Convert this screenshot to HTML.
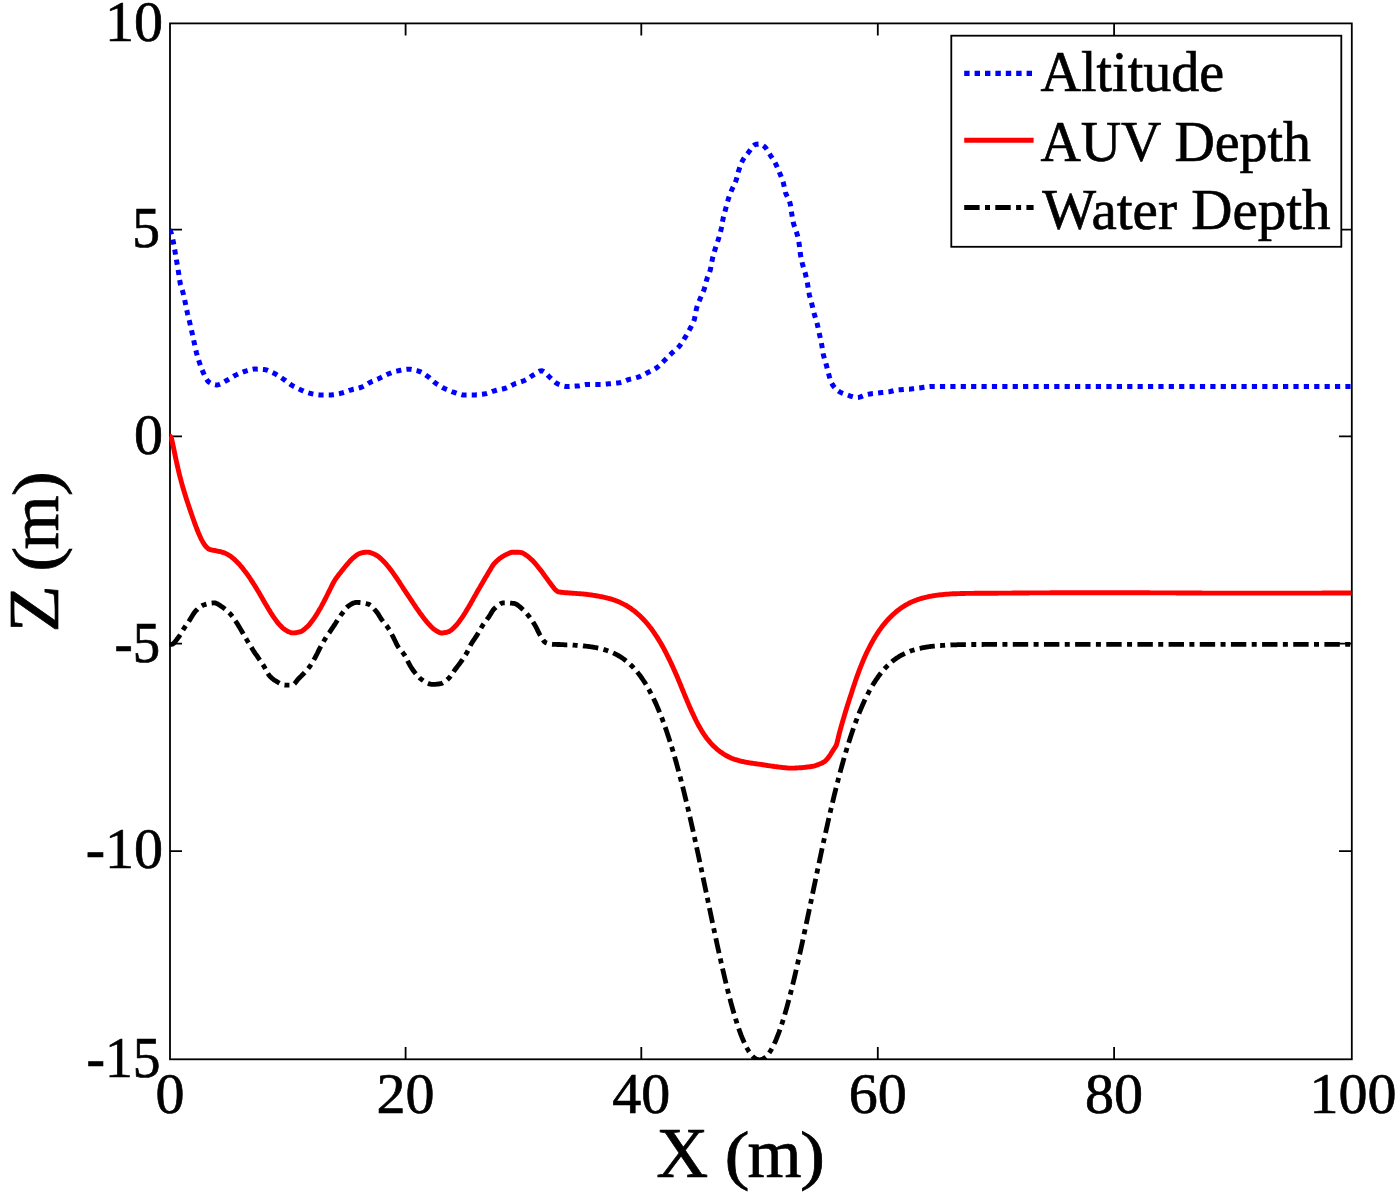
<!DOCTYPE html>
<html><head><meta charset="utf-8"><style>
html,body{margin:0;padding:0;background:#fff;overflow:hidden;}
svg{display:block;}
text{font-family:"Liberation Serif", serif;fill:#000;}
</style></head><body>
<svg width="1400" height="1196" viewBox="0 0 1400 1196">
<defs><clipPath id="cp"><rect x="169" y="22.5" width="1182.5" height="1037.5"/></clipPath></defs>
<rect x="0" y="0" width="1400" height="1196" fill="#fff"/>
<g stroke="#000" stroke-width="1.8" fill="none">
<rect x="170" y="23.4" width="1181.8" height="1035.9"/>
<path d="M405.6 1059.3V1047 M641.3 1059.3V1047 M877.8 1059.3V1047 M1114.1 1059.3V1047
M405.6 23.4V35.5 M641.3 23.4V35.5 M877.8 23.4V35.5 M1114.1 23.4V35.5
M170 229.7H182 M170 436.4H182 M170 643.6H182 M170 851.1H182
M1351.8 229.7H1339 M1351.8 436.4H1339 M1351.8 643.6H1339 M1351.8 851.1H1339"/>
</g>
<g clip-path="url(#cp)" fill="none" stroke-linejoin="round">
<path d="M169.5 644.3 L170.5 644.3 L171.5 644.3 L172.5 644.1 L173.5 643.5 L174.5 642.5 L175.5 641.2 L176.5 639.9 L177.5 638.5 L178.5 637.3 L179.5 635.8 L180.5 634.2 L181.5 632.5 L182.5 630.8 L183.5 629.2 L184.5 627.7 L185.5 626.2 L186.5 624.7 L187.5 623.2 L188.5 621.8 L189.5 620.3 L190.5 618.7 L191.5 617.1 L192.5 615.4 L193.5 613.8 L194.5 612.3 L195.5 611.2 L196.5 610.1 L197.5 609.2 L198.5 608.2 L199.5 607.4 L200.5 606.6 L201.5 606.0 L202.5 605.4 L203.5 605.0 L204.5 604.7 L205.5 604.4 L206.5 604.1 L207.5 603.9 L208.5 603.6 L209.5 603.4 L210.5 603.2 L211.5 603.1 L212.5 603.0 L213.5 602.9 L214.5 602.9 L215.5 603.0 L216.5 603.4 L217.5 603.9 L218.5 604.5 L219.5 605.1 L220.5 605.8 L221.5 606.5 L222.5 607.1 L223.5 607.8 L224.5 608.6 L225.5 609.4 L226.5 610.3 L227.5 611.2 L228.5 612.1 L229.5 613.1 L230.5 614.2 L231.5 615.3 L232.5 616.6 L233.5 618.0 L234.5 619.5 L235.5 621.0 L236.5 622.5 L237.5 624.1 L238.5 625.7 L239.5 627.4 L240.5 629.1 L241.5 630.8 L242.5 632.5 L243.5 634.3 L244.5 636.0 L245.5 637.7 L246.5 639.4 L247.5 641.1 L248.5 642.8 L249.5 644.4 L250.5 646.0 L251.5 647.6 L252.5 649.2 L253.5 650.8 L254.5 652.3 L255.5 653.8 L256.5 655.2 L257.5 656.7 L258.5 658.2 L259.5 659.6 L260.5 661.1 L261.5 662.6 L262.5 664.1 L263.5 665.6 L264.5 667.2 L265.5 669.1 L266.5 671.0 L267.5 672.9 L268.5 674.5 L269.5 675.8 L270.5 676.9 L271.5 677.8 L272.5 678.7 L273.5 679.5 L274.5 680.2 L275.5 680.8 L276.5 681.4 L277.5 682.0 L278.5 682.6 L279.5 683.1 L280.5 683.7 L281.5 684.1 L282.5 684.5 L283.5 684.9 L284.5 685.0 L285.5 685.1 L286.5 685.1 L287.5 685.1 L288.5 685.1 L289.5 685.1 L290.5 685.1 L291.5 685.1 L292.5 685.1 L293.5 684.6 L294.5 683.7 L295.5 682.5 L296.5 681.2 L297.5 679.9 L298.5 678.7 L299.5 677.7 L300.5 676.7 L301.5 675.8 L302.5 674.8 L303.5 673.8 L304.5 672.8 L305.5 671.7 L306.5 670.6 L307.5 669.4 L308.5 668.1 L309.5 666.8 L310.5 665.4 L311.5 663.9 L312.5 662.3 L313.5 660.5 L314.5 658.7 L315.5 656.8 L316.5 654.9 L317.5 653.0 L318.5 650.9 L319.5 648.9 L320.5 647.0 L321.5 645.2 L322.5 643.4 L323.5 641.6 L324.5 639.9 L325.5 638.3 L326.5 636.7 L327.5 635.2 L328.5 633.8 L329.5 632.4 L330.5 630.9 L331.5 629.4 L332.5 627.9 L333.5 626.3 L334.5 624.8 L335.5 623.3 L336.5 621.7 L337.5 620.2 L338.5 618.7 L339.5 617.2 L340.5 615.7 L341.5 614.3 L342.5 613.0 L343.5 611.6 L344.5 610.2 L345.5 608.9 L346.5 607.7 L347.5 606.7 L348.5 606.0 L349.5 605.3 L350.5 604.6 L351.5 604.0 L352.5 603.5 L353.5 603.0 L354.5 602.7 L355.5 602.5 L356.5 602.4 L357.5 602.4 L358.5 602.5 L359.5 602.5 L360.5 602.6 L361.5 602.8 L362.5 602.9 L363.5 603.1 L364.5 603.3 L365.5 603.5 L366.5 603.7 L367.5 604.0 L368.5 604.2 L369.5 604.6 L370.5 605.3 L371.5 606.1 L372.5 607.1 L373.5 608.2 L374.5 609.4 L375.5 610.5 L376.5 611.7 L377.5 613.0 L378.5 614.6 L379.5 616.2 L380.5 617.8 L381.5 619.3 L382.5 620.7 L383.5 622.0 L384.5 623.2 L385.5 624.4 L386.5 625.6 L387.5 627.0 L388.5 628.5 L389.5 630.1 L390.5 631.9 L391.5 633.8 L392.5 635.8 L393.5 637.7 L394.5 639.7 L395.5 641.8 L396.5 643.9 L397.5 645.8 L398.5 647.4 L399.5 648.7 L400.5 649.9 L401.5 651.1 L402.5 652.3 L403.5 653.6 L404.5 655.0 L405.5 656.7 L406.5 658.6 L407.5 660.6 L408.5 662.6 L409.5 664.5 L410.5 666.2 L411.5 667.8 L412.5 669.3 L413.5 670.8 L414.5 672.1 L415.5 673.4 L416.5 674.6 L417.5 675.7 L418.5 676.8 L419.5 677.8 L420.5 678.7 L421.5 679.5 L422.5 680.1 L423.5 680.8 L424.5 681.4 L425.5 682.0 L426.5 682.6 L427.5 683.1 L428.5 683.5 L429.5 683.9 L430.5 684.2 L431.5 684.3 L432.5 684.4 L433.5 684.4 L434.5 684.3 L435.5 684.3 L436.5 684.2 L437.5 684.1 L438.5 684.0 L439.5 683.9 L440.5 683.7 L441.5 683.5 L442.5 683.1 L443.5 682.5 L444.5 681.9 L445.5 681.1 L446.5 680.3 L447.5 679.4 L448.5 678.5 L449.5 677.5 L450.5 676.3 L451.5 674.9 L452.5 673.4 L453.5 671.9 L454.5 670.4 L455.5 669.0 L456.5 667.7 L457.5 666.4 L458.5 665.1 L459.5 663.8 L460.5 662.4 L461.5 661.0 L462.5 659.6 L463.5 658.1 L464.5 656.5 L465.5 654.9 L466.5 653.3 L467.5 651.5 L468.5 649.5 L469.5 647.4 L470.5 645.3 L471.5 643.4 L472.5 641.8 L473.5 640.3 L474.5 638.9 L475.5 637.4 L476.5 635.9 L477.5 634.3 L478.5 632.5 L479.5 630.7 L480.5 629.0 L481.5 627.3 L482.5 625.7 L483.5 624.2 L484.5 622.8 L485.5 621.5 L486.5 620.1 L487.5 618.7 L488.5 617.3 L489.5 615.8 L490.5 614.2 L491.5 612.5 L492.5 610.9 L493.5 609.5 L494.5 608.5 L495.5 607.6 L496.5 606.7 L497.5 605.8 L498.5 605.0 L499.5 604.3 L500.5 603.7 L501.5 603.3 L502.5 603.0 L503.5 602.9 L504.5 602.9 L505.5 602.9 L506.5 602.9 L507.5 603.0 L508.5 603.0 L509.5 603.1 L510.5 603.2 L511.5 603.2 L512.5 603.3 L513.5 603.4 L514.5 603.5 L515.5 603.8 L516.5 604.3 L517.5 605.0 L518.5 605.7 L519.5 606.5 L520.5 607.4 L521.5 608.3 L522.5 609.2 L523.5 610.1 L524.5 611.1 L525.5 612.1 L526.5 613.3 L527.5 614.5 L528.5 615.7 L529.5 617.0 L530.5 618.3 L531.5 619.7 L532.5 621.2 L533.5 622.8 L534.5 624.4 L535.5 626.1 L536.5 628.0 L537.5 630.1 L538.5 632.2 L539.5 634.1 L540.5 635.8 L541.5 637.6 L542.5 639.2 L543.5 640.7 L544.5 641.8 L545.5 642.5 L546.5 642.9 L547.5 643.3 L548.5 643.6 L549.5 643.9 L550.5 644.1 L551.5 644.2 L552.5 644.3 L553.5 644.3 L554.5 644.4 L555.5 644.4 L556.5 644.4 L557.5 644.5 L558.5 644.5 L559.5 644.5 L560.5 644.6 L561.5 644.6 L562.5 644.7 L563.5 644.7 L564.5 644.8 L565.5 644.8 L566.5 644.9 L567.5 644.9 L568.5 645.0 L569.5 645.0 L570.5 645.0 L571.5 645.1 L572.5 645.1 L573.5 645.2 L574.5 645.2 L575.5 645.3 L576.5 645.4 L577.5 645.4 L578.5 645.5 L579.5 645.6 L580.5 645.6 L581.5 645.7 L582.5 645.8 L583.1 645.9" stroke="#000" stroke-width="4.8" stroke-dasharray="15.304 5.366 4.969 5.327"/>
<path d="M583.1 645.9 L584.1 646.0 L585.1 646.1 L586.1 646.2 L587.1 646.3 L588.1 646.4 L589.1 646.5 L590.1 646.7 L591.1 646.8 L592.1 647.0 L593.1 647.1 L594.1 647.3 L595.1 647.5 L596.1 647.7 L597.1 647.9 L598.1 648.1 L599.1 648.3 L600.1 648.5 L601.1 648.8 L602.1 649.0 L603.1 649.3 L604.1 649.6 L605.1 649.9 L606.1 650.2 L607.1 650.6 L608.1 650.9 L609.1 651.3 L610.1 651.6 L611.1 652.1 L612.1 652.5 L613.1 652.9 L614.1 653.4 L615.1 653.9 L616.1 654.4 L617.1 654.9 L618.1 655.5 L619.1 656.0 L620.1 656.6 L621.1 657.3 L622.1 657.9 L623.1 658.6 L624.1 659.3 L625.1 660.1 L626.1 660.9 L627.1 661.7 L628.1 662.5 L629.1 663.4 L630.1 664.3 L631.1 665.3 L632.1 666.3 L633.1 667.3 L634.1 668.4 L635.1 669.5 L636.1 670.6 L637.1 671.8 L638.1 673.1 L639.1 674.4 L640.1 675.7 L641.1 677.1 L642.1 678.5 L643.1 680.0 L644.1 681.5 L645.1 683.1 L646.1 684.7 L647.1 686.4 L648.1 688.1 L649.1 689.9 L650.1 691.8 L651.1 693.7 L652.1 695.7 L653.1 697.7 L654.1 699.8 L655.1 701.9 L656.1 704.1 L657.1 706.4 L658.1 708.7 L659.1 711.1 L660.1 713.6 L661.1 716.1 L662.1 718.7 L663.1 721.4 L664.1 724.1 L665.1 726.9 L666.1 729.8 L667.1 732.7 L668.1 735.7 L669.1 738.7 L670.1 741.9 L671.1 745.1 L672.1 748.3 L673.1 751.6 L674.1 755.0 L675.1 758.5 L676.1 762.0 L677.1 765.6 L678.1 769.3 L679.1 773.0 L680.1 776.8 L681.1 780.6 L682.1 784.5 L683.1 788.5 L684.1 792.5 L685.1 796.6 L686.1 800.7 L687.1 804.9 L688.1 809.1 L689.1 813.4 L690.1 817.8 L691.1 822.2 L692.1 826.6 L693.1 831.1 L694.1 835.6 L695.1 840.2 L696.1 844.7 L697.1 849.4 L698.1 854.0 L699.1 858.7 L700.1 863.4 L701.1 868.1 L702.1 872.9 L703.1 877.7 L704.1 882.4 L705.1 887.2 L706.1 892.0 L707.1 896.8 L708.1 901.6 L709.1 906.4 L710.1 911.2 L711.1 916.0 L712.1 920.7 L713.1 925.5 L714.1 930.2 L715.1 934.9 L716.1 939.6 L717.1 944.2 L718.1 948.8 L719.1 953.3 L720.1 957.8 L721.1 962.3 L722.1 966.7 L723.1 971.0 L724.1 975.3 L725.1 979.5 L726.1 983.7 L727.1 987.8 L728.1 991.8 L729.1 995.7 L730.1 999.5 L731.1 1003.3 L732.1 1006.9 L733.1 1010.5 L734.1 1013.9 L735.1 1017.3 L736.1 1020.5 L737.1 1023.7 L738.1 1026.7 L739.1 1029.6 L740.1 1032.4 L741.1 1035.1 L742.1 1037.6 L743.1 1040.0 L744.1 1042.3 L745.1 1044.5 L746.1 1046.5 L747.1 1048.4 L748.1 1050.1 L749.1 1051.8 L750.1 1053.2 L751.1 1054.6 L752.1 1055.7 L753.1 1056.8 L754.1 1057.7 L755.1 1058.4 L756.1 1059.0 L757.1 1059.4 L758.1 1059.7 L759.1 1059.8 L760.1 1059.8 L761.1 1059.7 L762.1 1059.4 L763.1 1058.9 L764.1 1058.3 L765.1 1057.5 L766.1 1056.6 L767.1 1055.6 L768.1 1054.4 L769.1 1053.0 L770.1 1051.5 L771.1 1049.9 L772.1 1048.1 L773.1 1046.2 L774.1 1044.1 L775.1 1042.0 L776.1 1039.7 L777.1 1037.2 L778.1 1034.6 L779.1 1032.0 L780.1 1029.1 L781.1 1026.2 L782.1 1023.2 L783.1 1020.0 L784.1 1016.7 L785.1 1013.4 L786.1 1009.9 L787.1 1006.3 L788.1 1002.7 L789.1 998.9 L790.1 995.1 L791.1 991.1 L792.1 987.1 L793.1 983.0 L794.1 978.9 L795.1 974.6 L796.1 970.3 L797.1 966.0 L798.1 961.6 L799.1 957.1 L800.1 952.6 L801.1 948.0 L802.1 943.4 L803.1 938.8 L804.1 934.1 L805.1 929.4 L806.1 924.7 L807.1 920.0 L808.1 915.2 L809.1 910.4 L810.1 905.6 L811.1 900.9 L812.1 896.1 L813.1 891.3 L814.1 886.5 L815.1 881.7 L816.1 876.9 L817.1 872.1 L818.1 867.4 L819.1 862.7 L820.1 858.0 L821.1 853.3 L822.1 848.6 L823.1 844.0 L824.1 839.4 L825.1 834.9 L826.1 830.4 L827.1 825.9 L828.1 821.5 L829.1 817.1 L830.1 812.7 L831.1 808.5 L832.1 804.2 L833.1 800.1 L834.1 795.9 L835.1 791.9 L836.1 787.8 L837.1 783.9 L838.1 780.0 L839.1 776.2 L840.1 772.4 L841.1 768.7 L842.1 765.0 L843.1 761.5 L844.1 757.9 L845.1 754.5 L846.1 751.1 L847.1 747.8 L848.1 744.5 L849.1 741.4 L850.1 738.2 L851.1 735.2 L852.1 732.2 L853.1 729.3 L854.1 726.4 L855.1 723.7 L856.1 720.9 L857.1 718.3 L858.1 715.7 L859.1 713.2 L860.1 710.7 L861.1 708.4 L862.1 706.0 L863.1 703.8 L864.1 701.6 L865.1 699.4 L866.1 697.4 L867.1 695.3 L868.1 693.4 L869.1 691.5 L870.1 689.6 L871.1 687.9 L872.1 686.1 L873.1 684.4 L874.1 682.8 L875.1 681.3 L876.1 679.7 L877.1 678.3 L878.1 676.8 L879.1 675.5 L880.1 674.1 L881.1 672.9 L882.1 671.6 L883.1 670.4 L884.1 669.3 L885.1 668.2 L886.1 667.1 L887.1 666.1 L888.1 665.1 L889.1 664.2 L890.1 663.3 L891.1 662.4 L892.1 661.5 L893.1 660.7 L894.1 660.0 L895.1 659.2 L896.1 658.5 L897.1 657.8 L898.1 657.2 L899.1 656.5 L900.1 655.9 L901.1 655.4 L902.1 654.8 L903.1 654.3 L904.1 653.8 L905.1 653.3 L906.1 652.8 L907.1 652.4 L908.1 652.0 L909.1 651.6 L910.1 651.2 L911.1 650.8 L912.1 650.5 L913.1 650.2 L914.1 649.9 L915.1 649.6 L916.1 649.3 L917.1 649.0 L918.1 648.7 L919.1 648.5 L920.1 648.3 L921.1 648.1 L922.1 647.8 L923.1 647.6 L924.1 647.5 L925.1 647.3 L926.1 647.1 L927.1 647.0 L928.1 646.8 L929.1 646.7 L930.1 646.5 L931.1 646.4 L932.1 646.3 L933.1 646.2 L934.1 646.1 L935.1 646.0 L936.1 645.9 L937.1 645.8 L938.1 645.7 L939.1 645.6 L940.1 645.5 L941.1 645.5 L942.1 645.4 L943.1 645.3 L944.1 645.3 L945.1 645.2 L946.1 645.2 L947.1 645.1 L948.1 645.1 L949.1 645.0 L950.1 645.0 L950.5 645.0" stroke="#000" stroke-width="4.8" stroke-dasharray="15.339 5.379 4.980 5.339"/>
<path d="M950.5 645.0 L951.5 644.9 L952.5 644.9 L953.5 644.9 L954.5 644.8 L955.5 644.8 L956.5 644.8 L957.5 644.7 L958.5 644.7 L959.5 644.7 L960.5 644.7 L961.5 644.7 L962.5 644.6 L963.5 644.6 L964.5 644.6 L965.5 644.6 L966.5 644.6 L967.5 644.6 L968.5 644.6 L969.5 644.5 L970.5 644.5 L971.5 644.5 L972.5 644.5 L973.5 644.5 L974.5 644.5 L975.5 644.5 L976.5 644.5 L977.5 644.5 L978.5 644.5 L979.5 644.5 L980.5 644.5 L981.5 644.5 L982.5 644.5 L983.5 644.4 L984.5 644.4 L985.5 644.4 L986.5 644.4 L987.5 644.4 L988.5 644.4 L989.5 644.4 L990.5 644.4 L991.5 644.4 L992.5 644.4 L993.5 644.4 L994.5 644.4 L995.5 644.4 L996.5 644.4 L997.5 644.4 L998.5 644.4 L999.5 644.4 L1000.5 644.4 L1001.5 644.4 L1002.5 644.4 L1003.5 644.4 L1004.5 644.4 L1005.5 644.4 L1006.5 644.4 L1007.5 644.4 L1008.5 644.4 L1009.5 644.4 L1010.5 644.4 L1011.5 644.4 L1012.5 644.4 L1013.5 644.4 L1014.5 644.4 L1015.5 644.4 L1016.5 644.4 L1017.5 644.4 L1018.5 644.4 L1019.5 644.4 L1020.5 644.4 L1021.5 644.4 L1022.5 644.4 L1023.5 644.4 L1024.5 644.4 L1025.5 644.4 L1026.5 644.4 L1027.5 644.4 L1028.5 644.4 L1029.5 644.4 L1030.5 644.4 L1031.5 644.4 L1032.5 644.4 L1033.5 644.4 L1034.5 644.4 L1035.5 644.4 L1036.5 644.4 L1037.5 644.4 L1038.5 644.4 L1039.5 644.4 L1040.5 644.4 L1041.5 644.4 L1042.5 644.4 L1043.5 644.4 L1044.5 644.4 L1045.5 644.4 L1046.5 644.4 L1047.5 644.4 L1048.5 644.4 L1049.5 644.4 L1050.5 644.4 L1051.5 644.4 L1052.5 644.4 L1053.5 644.4 L1054.5 644.4 L1055.5 644.4 L1056.5 644.4 L1057.5 644.4 L1058.5 644.4 L1059.5 644.4 L1060.5 644.4 L1061.5 644.4 L1062.5 644.4 L1063.5 644.4 L1064.5 644.4 L1065.5 644.4 L1066.5 644.4 L1067.5 644.4 L1068.5 644.4 L1069.5 644.4 L1070.5 644.4 L1071.5 644.4 L1072.5 644.4 L1073.5 644.4 L1074.5 644.4 L1075.5 644.4 L1076.5 644.4 L1077.5 644.4 L1078.5 644.4 L1079.5 644.4 L1080.5 644.4 L1081.5 644.4 L1082.5 644.4 L1083.5 644.4 L1084.5 644.4 L1085.5 644.4 L1086.5 644.4 L1087.5 644.4 L1088.5 644.4 L1089.5 644.4 L1090.5 644.4 L1091.5 644.4 L1092.5 644.4 L1093.5 644.4 L1094.5 644.4 L1095.5 644.4 L1096.5 644.4 L1097.5 644.4 L1098.5 644.4 L1099.5 644.4 L1100.5 644.4 L1101.5 644.4 L1102.5 644.4 L1103.5 644.4 L1104.5 644.4 L1105.5 644.4 L1106.5 644.4 L1107.5 644.4 L1108.5 644.4 L1109.5 644.4 L1110.5 644.4 L1111.5 644.4 L1112.5 644.4 L1113.5 644.4 L1114.5 644.4 L1115.5 644.4 L1116.5 644.4 L1117.5 644.4 L1118.5 644.4 L1119.5 644.4 L1120.5 644.4 L1121.5 644.4 L1122.5 644.4 L1123.5 644.4 L1124.5 644.4 L1125.5 644.4 L1126.5 644.4 L1127.5 644.4 L1128.5 644.4 L1129.5 644.4 L1130.5 644.4 L1131.5 644.4 L1132.5 644.4 L1133.5 644.4 L1134.5 644.4 L1135.5 644.4 L1136.5 644.4 L1137.5 644.4 L1138.5 644.4 L1139.5 644.4 L1140.5 644.4 L1141.5 644.4 L1142.5 644.4 L1143.5 644.4 L1144.5 644.4 L1145.5 644.4 L1146.5 644.4 L1147.5 644.4 L1148.5 644.4 L1149.5 644.4 L1150.5 644.4 L1151.5 644.4 L1152.5 644.4 L1153.5 644.4 L1154.5 644.4 L1155.5 644.4 L1156.5 644.4 L1157.5 644.4 L1158.5 644.4 L1159.5 644.4 L1160.5 644.4 L1161.5 644.4 L1162.5 644.4 L1163.5 644.4 L1164.5 644.4 L1165.5 644.4 L1166.5 644.4 L1167.5 644.4 L1168.5 644.4 L1169.5 644.4 L1170.5 644.4 L1171.5 644.4 L1172.5 644.4 L1173.5 644.4 L1174.5 644.4 L1175.5 644.4 L1176.5 644.4 L1177.5 644.4 L1178.5 644.4 L1179.5 644.4 L1180.5 644.4 L1181.5 644.4 L1182.5 644.4 L1183.5 644.4 L1184.5 644.4 L1185.5 644.4 L1186.5 644.4 L1187.5 644.4 L1188.5 644.4 L1189.5 644.4 L1190.5 644.4 L1191.5 644.4 L1192.5 644.4 L1193.5 644.4 L1194.5 644.4 L1195.5 644.4 L1196.5 644.4 L1197.5 644.4 L1198.5 644.4 L1199.5 644.4 L1200.5 644.4 L1201.5 644.4 L1202.5 644.4 L1203.5 644.4 L1204.5 644.4 L1205.5 644.4 L1206.5 644.4 L1207.5 644.4 L1208.5 644.4 L1209.5 644.4 L1210.5 644.4 L1211.5 644.4 L1212.5 644.4 L1213.5 644.4 L1214.5 644.4 L1215.5 644.4 L1216.5 644.4 L1217.5 644.4 L1218.5 644.4 L1219.5 644.4 L1220.5 644.4 L1221.5 644.4 L1222.5 644.4 L1223.5 644.4 L1224.5 644.4 L1225.5 644.4 L1226.5 644.4 L1227.5 644.4 L1228.5 644.4 L1229.5 644.4 L1230.5 644.4 L1231.5 644.4 L1232.5 644.4 L1233.5 644.4 L1234.5 644.4 L1235.5 644.4 L1236.5 644.4 L1237.5 644.4 L1238.5 644.4 L1239.5 644.4 L1240.5 644.4 L1241.5 644.4 L1242.5 644.4 L1243.5 644.4 L1244.5 644.4 L1245.5 644.4 L1246.5 644.4 L1247.5 644.4 L1248.5 644.4 L1249.5 644.4 L1250.5 644.4 L1251.5 644.4 L1252.5 644.4 L1253.5 644.4 L1254.5 644.4 L1255.5 644.4 L1256.5 644.4 L1257.5 644.4 L1258.5 644.4 L1259.5 644.4 L1260.5 644.4 L1261.5 644.4 L1262.5 644.4 L1263.5 644.4 L1264.5 644.4 L1265.5 644.4 L1266.5 644.4 L1267.5 644.4 L1268.5 644.4 L1269.5 644.4 L1270.5 644.4 L1271.5 644.4 L1272.5 644.4 L1273.5 644.4 L1274.5 644.4 L1275.5 644.4 L1276.5 644.4 L1277.5 644.4 L1278.5 644.4 L1279.5 644.4 L1280.5 644.4 L1281.5 644.4 L1282.5 644.4 L1283.5 644.4 L1284.5 644.4 L1285.5 644.4 L1286.5 644.4 L1287.5 644.4 L1288.5 644.4 L1289.5 644.4 L1290.5 644.4 L1291.5 644.4 L1292.5 644.4 L1293.5 644.4 L1294.5 644.4 L1295.5 644.4 L1296.5 644.4 L1297.5 644.4 L1298.5 644.4 L1299.5 644.4 L1300.5 644.4 L1301.5 644.4 L1302.5 644.4 L1303.5 644.4 L1304.5 644.4 L1305.5 644.4 L1306.5 644.4 L1307.5 644.4 L1308.5 644.4 L1309.5 644.4 L1310.5 644.4 L1311.5 644.4 L1312.5 644.4 L1313.5 644.4 L1314.5 644.4 L1315.5 644.4 L1316.5 644.4 L1317.5 644.4 L1318.5 644.4 L1319.5 644.4 L1320.5 644.4 L1321.5 644.4 L1322.5 644.4 L1323.5 644.4 L1324.5 644.4 L1325.5 644.4 L1326.5 644.4 L1327.5 644.4 L1328.5 644.4 L1329.5 644.4 L1330.5 644.4 L1331.5 644.4 L1332.5 644.4 L1333.5 644.4 L1334.5 644.4 L1335.5 644.4 L1336.5 644.4 L1337.5 644.4 L1338.5 644.4 L1339.5 644.4 L1340.5 644.4 L1341.5 644.4 L1342.5 644.4 L1343.5 644.4 L1344.5 644.4 L1345.5 644.4 L1346.5 644.4 L1347.5 644.4 L1348.5 644.4 L1349.5 644.4 L1350.5 644.4 L1351.5 644.4 L1352.5 644.4 L1353.0 644.4" stroke="#000" stroke-width="4.8" stroke-dasharray="15.400 5.400 5.000 5.360"/>
<path d="M169.5 436.3 L170.5 436.5 L171.5 438.5 L172.5 442.9 L173.5 447.6 L174.5 452.4 L175.5 457.3 L176.5 461.9 L177.5 466.4 L178.5 470.7 L179.5 474.8 L180.5 478.7 L181.5 482.5 L182.5 486.1 L183.5 489.5 L184.5 492.8 L185.5 496.0 L186.5 499.2 L187.5 502.2 L188.5 505.2 L189.5 508.2 L190.5 511.1 L191.5 514.1 L192.5 517.0 L193.5 519.8 L194.5 522.6 L195.5 525.3 L196.5 528.0 L197.5 530.5 L198.5 533.0 L199.5 535.3 L200.5 537.5 L201.5 539.6 L202.5 541.4 L203.5 543.1 L204.5 544.7 L205.5 546.0 L206.5 547.1 L207.5 548.0 L208.5 548.8 L209.5 549.4 L210.5 549.7 L211.5 550.0 L212.5 550.2 L213.5 550.4 L214.5 550.5 L215.5 550.7 L216.5 550.9 L217.5 551.1 L218.5 551.3 L219.5 551.5 L220.5 551.7 L221.5 552.0 L222.5 552.3 L223.5 552.6 L224.5 552.9 L225.5 553.4 L226.5 553.9 L227.5 554.4 L228.5 555.0 L229.5 555.6 L230.5 556.3 L231.5 557.0 L232.5 557.8 L233.5 558.7 L234.5 559.5 L235.5 560.5 L236.5 561.4 L237.5 562.4 L238.5 563.4 L239.5 564.5 L240.5 565.7 L241.5 566.9 L242.5 568.1 L243.5 569.4 L244.5 570.7 L245.5 572.0 L246.5 573.3 L247.5 574.7 L248.5 576.1 L249.5 577.5 L250.5 579.0 L251.5 580.6 L252.5 582.1 L253.5 583.7 L254.5 585.3 L255.5 586.9 L256.5 588.5 L257.5 590.2 L258.5 591.8 L259.5 593.5 L260.5 595.3 L261.5 597.0 L262.5 598.7 L263.5 600.5 L264.5 602.2 L265.5 603.9 L266.5 605.6 L267.5 607.3 L268.5 609.0 L269.5 610.6 L270.5 612.3 L271.5 613.8 L272.5 615.4 L273.5 616.9 L274.5 618.3 L275.5 619.7 L276.5 621.1 L277.5 622.4 L278.5 623.6 L279.5 624.7 L280.5 625.8 L281.5 626.8 L282.5 627.8 L283.5 628.6 L284.5 629.4 L285.5 630.0 L286.5 630.6 L287.5 631.2 L288.5 631.7 L289.5 632.1 L290.5 632.5 L291.5 632.8 L292.5 632.9 L293.5 632.9 L294.5 632.9 L295.5 632.7 L296.5 632.6 L297.5 632.4 L298.5 632.2 L299.5 632.0 L300.5 631.7 L301.5 631.3 L302.5 630.7 L303.5 630.0 L304.5 629.2 L305.5 628.3 L306.5 627.4 L307.5 626.5 L308.5 625.5 L309.5 624.4 L310.5 623.1 L311.5 621.8 L312.5 620.5 L313.5 619.1 L314.5 617.7 L315.5 616.2 L316.5 614.6 L317.5 613.0 L318.5 611.3 L319.5 609.6 L320.5 607.9 L321.5 606.1 L322.5 604.2 L323.5 602.3 L324.5 600.4 L325.5 598.5 L326.5 596.5 L327.5 594.5 L328.5 592.4 L329.5 590.5 L330.5 588.5 L331.5 586.4 L332.5 584.4 L333.5 582.5 L334.5 580.7 L335.5 579.1 L336.5 577.7 L337.5 576.4 L338.5 575.1 L339.5 573.8 L340.5 572.6 L341.5 571.3 L342.5 570.0 L343.5 568.7 L344.5 567.5 L345.5 566.3 L346.5 565.1 L347.5 564.0 L348.5 562.8 L349.5 561.6 L350.5 560.5 L351.5 559.5 L352.5 558.5 L353.5 557.6 L354.5 556.8 L355.5 556.0 L356.5 555.3 L357.5 554.6 L358.5 554.0 L359.5 553.6 L360.5 553.2 L361.5 553.0 L362.5 552.7 L363.5 552.5 L364.5 552.3 L365.5 552.2 L366.5 552.1 L367.5 552.1 L368.5 552.2 L369.5 552.4 L370.5 552.7 L371.5 553.0 L372.5 553.4 L373.5 553.8 L374.5 554.3 L375.5 554.7 L376.5 555.3 L377.5 555.9 L378.5 556.7 L379.5 557.5 L380.5 558.4 L381.5 559.3 L382.5 560.2 L383.5 561.2 L384.5 562.2 L385.5 563.4 L386.5 564.5 L387.5 565.7 L388.5 566.9 L389.5 568.2 L390.5 569.5 L391.5 570.8 L392.5 572.2 L393.5 573.6 L394.5 575.0 L395.5 576.5 L396.5 577.9 L397.5 579.4 L398.5 580.9 L399.5 582.4 L400.5 584.0 L401.5 585.5 L402.5 587.0 L403.5 588.6 L404.5 590.1 L405.5 591.6 L406.5 593.1 L407.5 594.7 L408.5 596.2 L409.5 597.7 L410.5 599.2 L411.5 600.7 L412.5 602.2 L413.5 603.7 L414.5 605.1 L415.5 606.6 L416.5 608.1 L417.5 609.5 L418.5 610.9 L419.5 612.4 L420.5 613.8 L421.5 615.1 L422.5 616.4 L423.5 617.8 L424.5 619.1 L425.5 620.3 L426.5 621.6 L427.5 622.7 L428.5 623.8 L429.5 624.9 L430.5 626.0 L431.5 627.0 L432.5 628.0 L433.5 628.9 L434.5 629.6 L435.5 630.3 L436.5 630.9 L437.5 631.5 L438.5 632.0 L439.5 632.5 L440.5 632.8 L441.5 633.0 L442.5 633.0 L443.5 632.9 L444.5 632.7 L445.5 632.5 L446.5 632.3 L447.5 632.0 L448.5 631.7 L449.5 631.2 L450.5 630.6 L451.5 629.9 L452.5 629.0 L453.5 628.0 L454.5 627.1 L455.5 626.1 L456.5 625.0 L457.5 623.7 L458.5 622.5 L459.5 621.1 L460.5 619.7 L461.5 618.3 L462.5 616.9 L463.5 615.4 L464.5 613.8 L465.5 612.2 L466.5 610.5 L467.5 608.8 L468.5 607.2 L469.5 605.4 L470.5 603.7 L471.5 601.9 L472.5 600.2 L473.5 598.4 L474.5 596.6 L475.5 594.9 L476.5 593.1 L477.5 591.3 L478.5 589.6 L479.5 587.9 L480.5 586.1 L481.5 584.4 L482.5 582.7 L483.5 581.0 L484.5 579.3 L485.5 577.6 L486.5 575.9 L487.5 574.2 L488.5 572.5 L489.5 570.9 L490.5 569.2 L491.5 567.5 L492.5 565.9 L493.5 564.4 L494.5 563.2 L495.5 562.2 L496.5 561.2 L497.5 560.3 L498.5 559.5 L499.5 558.7 L500.5 557.9 L501.5 557.2 L502.5 556.6 L503.5 556.0 L504.5 555.4 L505.5 554.9 L506.5 554.4 L507.5 553.9 L508.5 553.5 L509.5 553.0 L510.5 552.6 L511.5 552.3 L512.5 552.2 L513.5 552.2 L514.5 552.2 L515.5 552.2 L516.5 552.2 L517.5 552.3 L518.5 552.3 L519.5 552.4 L520.5 552.5 L521.5 552.6 L522.5 552.9 L523.5 553.5 L524.5 554.1 L525.5 554.7 L526.5 555.4 L527.5 556.1 L528.5 556.9 L529.5 557.8 L530.5 558.7 L531.5 559.6 L532.5 560.6 L533.5 561.6 L534.5 562.7 L535.5 563.8 L536.5 565.0 L537.5 566.2 L538.5 567.5 L539.5 568.7 L540.5 570.0 L541.5 571.3 L542.5 572.6 L543.5 574.0 L544.5 575.4 L545.5 576.7 L546.5 578.1 L547.5 579.5 L548.5 580.9 L549.5 582.3 L550.5 583.6 L551.5 584.9 L552.5 586.2 L553.5 587.5 L554.5 588.8 L555.5 589.9 L556.5 590.8 L557.5 591.5 L558.5 591.8 L559.5 592.0 L560.5 592.2 L561.5 592.3 L562.5 592.4 L563.5 592.5 L564.5 592.6 L565.5 592.7 L566.5 592.8 L567.5 592.8 L568.5 592.9 L569.5 593.0 L570.5 593.0 L571.5 593.1 L572.5 593.2 L573.5 593.3 L574.5 593.4 L575.5 593.4 L576.5 593.5 L577.5 593.6 L578.5 593.6 L579.5 593.7 L580.5 593.8 L581.5 593.9 L582.5 593.9 L583.5 594.0 L584.5 594.1 L585.5 594.2 L586.5 594.3 L587.5 594.5 L588.5 594.6 L589.5 594.7 L590.5 594.9 L591.5 595.0 L592.5 595.2 L593.5 595.4 L594.5 595.5 L595.5 595.7 L596.5 595.8 L597.5 596.0 L598.5 596.2 L599.5 596.4 L600.5 596.6 L601.5 596.7 L602.5 596.9 L603.5 597.2 L604.5 597.4 L605.5 597.6 L606.5 597.8 L607.5 598.1 L608.5 598.3 L609.5 598.6 L610.5 598.9 L611.5 599.2 L612.5 599.5 L613.5 599.8 L614.5 600.2 L615.5 600.5 L616.5 600.9 L617.5 601.3 L618.5 601.7 L619.5 602.1 L620.5 602.6 L621.5 603.1 L622.5 603.6 L623.5 604.1 L624.5 604.6 L625.5 605.1 L626.5 605.7 L627.5 606.3 L628.5 606.9 L629.5 607.6 L630.5 608.2 L631.5 609.0 L632.5 609.7 L633.5 610.4 L634.5 611.2 L635.5 612.0 L636.5 612.8 L637.5 613.7 L638.5 614.6 L639.5 615.5 L640.5 616.4 L641.5 617.4 L642.5 618.4 L643.5 619.5 L644.5 620.6 L645.5 621.7 L646.5 622.8 L647.5 624.0 L648.5 625.2 L649.5 626.5 L650.5 627.7 L651.5 629.1 L652.5 630.4 L653.5 631.8 L654.5 633.3 L655.5 634.8 L656.5 636.3 L657.5 637.9 L658.5 639.5 L659.5 641.1 L660.5 642.8 L661.5 644.5 L662.5 646.3 L663.5 648.1 L664.5 650.0 L665.5 651.9 L666.5 653.8 L667.5 655.8 L668.5 657.8 L669.5 659.8 L670.5 662.0 L671.5 664.1 L672.5 666.3 L673.5 668.5 L674.5 670.7 L675.5 673.0 L676.5 675.3 L677.5 677.6 L678.5 680.0 L679.5 682.4 L680.5 684.8 L681.5 687.3 L682.5 689.7 L683.5 692.1 L684.5 694.6 L685.5 697.0 L686.5 699.4 L687.5 701.7 L688.5 704.1 L689.5 706.4 L690.5 708.7 L691.5 711.0 L692.5 713.1 L693.5 715.3 L694.5 717.4 L695.5 719.5 L696.5 721.5 L697.5 723.4 L698.5 725.3 L699.5 727.1 L700.5 728.8 L701.5 730.5 L702.5 732.1 L703.5 733.7 L704.5 735.2 L705.5 736.6 L706.5 737.9 L707.5 739.2 L708.5 740.4 L709.5 741.6 L710.5 742.8 L711.5 743.9 L712.5 744.9 L713.5 746.0 L714.5 746.9 L715.5 747.8 L716.5 748.7 L717.5 749.6 L718.5 750.4 L719.5 751.2 L720.5 751.9 L721.5 752.6 L722.5 753.3 L723.5 754.0 L724.5 754.6 L725.5 755.2 L726.5 755.7 L727.5 756.3 L728.5 756.8 L729.5 757.3 L730.5 757.7 L731.5 758.2 L732.5 758.6 L733.5 758.9 L734.5 759.3 L735.5 759.6 L736.5 759.9 L737.5 760.2 L738.5 760.5 L739.5 760.8 L740.5 761.0 L741.5 761.3 L742.5 761.5 L743.5 761.7 L744.5 762.0 L745.5 762.2 L746.5 762.4 L747.5 762.5 L748.5 762.7 L749.5 762.9 L750.5 763.0 L751.5 763.2 L752.5 763.3 L753.5 763.4 L754.5 763.6 L755.5 763.7 L756.5 763.8 L757.5 764.0 L758.5 764.1 L759.5 764.2 L760.5 764.4 L761.5 764.5 L762.5 764.7 L763.5 764.8 L764.5 765.0 L765.5 765.2 L766.5 765.3 L767.5 765.5 L768.5 765.6 L769.5 765.8 L770.5 765.9 L771.5 766.1 L772.5 766.2 L773.5 766.3 L774.5 766.5 L775.5 766.6 L776.5 766.7 L777.5 766.8 L778.5 767.0 L779.5 767.1 L780.5 767.2 L781.5 767.4 L782.5 767.5 L783.5 767.6 L784.5 767.7 L785.5 767.8 L786.5 767.9 L787.5 768.0 L788.5 768.1 L789.5 768.1 L790.5 768.1 L791.5 768.1 L792.5 768.1 L793.5 768.1 L794.5 768.1 L795.5 768.0 L796.5 768.0 L797.5 767.9 L798.5 767.9 L799.5 767.8 L800.5 767.7 L801.5 767.7 L802.5 767.6 L803.5 767.5 L804.5 767.4 L805.5 767.3 L806.5 767.2 L807.5 767.0 L808.5 766.9 L809.5 766.8 L810.5 766.7 L811.5 766.5 L812.5 766.4 L813.5 766.1 L814.5 765.9 L815.5 765.6 L816.5 765.2 L817.5 764.9 L818.5 764.5 L819.5 764.1 L820.5 763.7 L821.5 763.3 L822.5 762.8 L823.5 762.2 L824.5 761.6 L825.5 760.7 L826.5 759.7 L827.5 758.6 L828.5 757.4 L829.5 756.0 L830.5 754.5 L831.5 752.8 L832.5 751.2 L833.5 749.6 L834.5 748.2 L835.5 746.7 L836.5 744.6 L837.5 741.0 L838.5 736.6 L839.5 732.6 L840.5 729.0 L841.5 725.4 L842.5 721.9 L843.5 718.5 L844.5 715.1 L845.5 711.8 L846.5 708.5 L847.5 705.3 L848.5 702.2 L849.5 699.1 L850.5 696.0 L851.5 692.9 L852.5 689.8 L853.5 686.7 L854.5 683.7 L855.5 680.8 L856.5 677.9 L857.5 675.1 L858.5 672.4 L859.5 669.7 L860.5 667.1 L861.5 664.6 L862.5 662.2 L863.5 659.8 L864.5 657.5 L865.5 655.3 L866.5 653.1 L867.5 651.0 L868.5 649.0 L869.5 647.0 L870.5 645.1 L871.5 643.2 L872.5 641.4 L873.5 639.6 L874.5 637.9 L875.5 636.3 L876.5 634.7 L877.5 633.1 L878.5 631.6 L879.5 630.2 L880.5 628.8 L881.5 627.4 L882.5 626.1 L883.5 624.8 L884.5 623.6 L885.5 622.4 L886.5 621.2 L887.5 620.1 L888.5 619.0 L889.5 618.0 L890.5 617.0 L891.5 616.0 L892.5 615.0 L893.5 614.1 L894.5 613.2 L895.5 612.3 L896.5 611.5 L897.5 610.7 L898.5 609.9 L899.5 609.2 L900.5 608.4 L901.5 607.7 L902.5 607.1 L903.5 606.4 L904.5 605.8 L905.5 605.2 L906.5 604.6 L907.5 604.1 L908.5 603.5 L909.5 603.0 L910.5 602.5 L911.5 602.1 L912.5 601.6 L913.5 601.2 L914.5 600.8 L915.5 600.4 L916.5 600.0 L917.5 599.7 L918.5 599.3 L919.5 599.0 L920.5 598.7 L921.5 598.4 L922.5 598.1 L923.5 597.8 L924.5 597.6 L925.5 597.3 L926.5 597.1 L927.5 596.9 L928.5 596.6 L929.5 596.4 L930.5 596.3 L931.5 596.1 L932.5 595.9 L933.5 595.7 L934.5 595.6 L935.5 595.4 L936.5 595.3 L937.5 595.1 L938.5 595.0 L939.5 594.9 L940.5 594.8 L941.5 594.7 L942.5 594.6 L943.5 594.5 L944.5 594.4 L945.5 594.3 L946.5 594.2 L947.5 594.1 L948.5 594.1 L949.5 594.0 L950.5 593.9 L951.5 593.9 L952.5 593.8 L953.5 593.8 L954.5 593.7 L955.5 593.7 L956.5 593.7 L957.5 593.6 L958.5 593.6 L959.5 593.6 L960.5 593.5 L961.5 593.5 L962.5 593.5 L963.5 593.5 L964.5 593.5 L965.5 593.4 L966.5 593.4 L967.5 593.4 L968.5 593.4 L969.5 593.4 L970.5 593.4 L971.5 593.4 L972.5 593.4 L973.5 593.4 L974.5 593.3 L975.5 593.3 L976.5 593.3 L977.5 593.3 L978.5 593.3 L979.5 593.3 L980.5 593.3 L981.5 593.3 L982.5 593.3 L983.5 593.3 L984.5 593.3 L985.5 593.2 L986.5 593.2 L987.5 593.2 L988.5 593.2 L989.5 593.2 L990.5 593.2 L991.5 593.2 L992.5 593.2 L993.5 593.2 L994.5 593.2 L995.5 593.2 L996.5 593.2 L997.5 593.2 L998.5 593.1 L999.5 593.1 L1000.5 593.1 L1001.5 593.1 L1002.5 593.1 L1003.5 593.1 L1004.5 593.1 L1005.5 593.1 L1006.5 593.1 L1007.5 593.1 L1008.5 593.1 L1009.5 593.1 L1010.5 593.1 L1011.5 593.1 L1012.5 593.0 L1013.5 593.0 L1014.5 593.0 L1015.5 593.0 L1016.5 593.0 L1017.5 593.0 L1018.5 593.0 L1019.5 593.0 L1020.5 593.0 L1021.5 593.0 L1022.5 593.0 L1023.5 593.0 L1024.5 593.0 L1025.5 593.0 L1026.5 593.0 L1027.5 593.0 L1028.5 593.0 L1029.5 592.9 L1030.5 592.9 L1031.5 592.9 L1032.5 592.9 L1033.5 592.9 L1034.5 592.9 L1035.5 592.9 L1036.5 592.9 L1037.5 592.9 L1038.5 592.9 L1039.5 592.9 L1040.5 592.9 L1041.5 592.9 L1042.5 592.9 L1043.5 592.9 L1044.5 592.9 L1045.5 592.9 L1046.5 592.9 L1047.5 592.9 L1048.5 592.9 L1049.5 592.9 L1050.5 592.8 L1051.5 592.8 L1052.5 592.8 L1053.5 592.8 L1054.5 592.8 L1055.5 592.8 L1056.5 592.8 L1057.5 592.8 L1058.5 592.8 L1059.5 592.8 L1060.5 592.8 L1061.5 592.8 L1062.5 592.8 L1063.5 592.8 L1064.5 592.8 L1065.5 592.8 L1066.5 592.8 L1067.5 592.8 L1068.5 592.8 L1069.5 592.8 L1070.5 592.8 L1071.5 592.8 L1072.5 592.8 L1073.5 592.8 L1074.5 592.8 L1075.5 592.8 L1076.5 592.8 L1077.5 592.8 L1078.5 592.8 L1079.5 592.8 L1080.5 592.8 L1081.5 592.8 L1082.5 592.8 L1083.5 592.8 L1084.5 592.8 L1085.5 592.8 L1086.5 592.8 L1087.5 592.8 L1088.5 592.8 L1089.5 592.8 L1090.5 592.8 L1091.5 592.8 L1092.5 592.8 L1093.5 592.8 L1094.5 592.7 L1095.5 592.7 L1096.5 592.7 L1097.5 592.7 L1098.5 592.7 L1099.5 592.7 L1100.5 592.7 L1101.5 592.7 L1102.5 592.7 L1103.5 592.7 L1104.5 592.7 L1105.5 592.7 L1106.5 592.8 L1107.5 592.8 L1108.5 592.8 L1109.5 592.8 L1110.5 592.8 L1111.5 592.8 L1112.5 592.8 L1113.5 592.8 L1114.5 592.8 L1115.5 592.8 L1116.5 592.8 L1117.5 592.8 L1118.5 592.8 L1119.5 592.8 L1120.5 592.8 L1121.5 592.8 L1122.5 592.8 L1123.5 592.8 L1124.5 592.8 L1125.5 592.8 L1126.5 592.8 L1127.5 592.8 L1128.5 592.8 L1129.5 592.8 L1130.5 592.8 L1131.5 592.8 L1132.5 592.8 L1133.5 592.8 L1134.5 592.8 L1135.5 592.8 L1136.5 592.8 L1137.5 592.8 L1138.5 592.8 L1139.5 592.8 L1140.5 592.8 L1141.5 592.8 L1142.5 592.8 L1143.5 592.8 L1144.5 592.8 L1145.5 592.8 L1146.5 592.8 L1147.5 592.8 L1148.5 592.8 L1149.5 592.8 L1150.5 592.9 L1151.5 592.9 L1152.5 592.9 L1153.5 592.9 L1154.5 592.9 L1155.5 592.9 L1156.5 592.9 L1157.5 592.9 L1158.5 592.9 L1159.5 592.9 L1160.5 592.9 L1161.5 592.9 L1162.5 592.9 L1163.5 592.9 L1164.5 592.9 L1165.5 592.9 L1166.5 592.9 L1167.5 592.9 L1168.5 592.9 L1169.5 592.9 L1170.5 592.9 L1171.5 592.9 L1172.5 592.9 L1173.5 592.9 L1174.5 592.9 L1175.5 592.9 L1176.5 593.0 L1177.5 593.0 L1178.5 593.0 L1179.5 593.0 L1180.5 593.0 L1181.5 593.0 L1182.5 593.0 L1183.5 593.0 L1184.5 593.0 L1185.5 593.0 L1186.5 593.0 L1187.5 593.0 L1188.5 593.0 L1189.5 593.0 L1190.5 593.0 L1191.5 593.0 L1192.5 593.0 L1193.5 593.0 L1194.5 593.0 L1195.5 593.0 L1196.5 593.0 L1197.5 593.0 L1198.5 593.0 L1199.5 593.0 L1200.5 593.0 L1201.5 593.0 L1202.5 593.1 L1203.5 593.1 L1204.5 593.1 L1205.5 593.1 L1206.5 593.1 L1207.5 593.1 L1208.5 593.1 L1209.5 593.1 L1210.5 593.1 L1211.5 593.1 L1212.5 593.1 L1213.5 593.1 L1214.5 593.1 L1215.5 593.1 L1216.5 593.1 L1217.5 593.1 L1218.5 593.1 L1219.5 593.1 L1220.5 593.1 L1221.5 593.1 L1222.5 593.1 L1223.5 593.1 L1224.5 593.1 L1225.5 593.1 L1226.5 593.1 L1227.5 593.1 L1228.5 593.1 L1229.5 593.1 L1230.5 593.1 L1231.5 593.1 L1232.5 593.1 L1233.5 593.1 L1234.5 593.1 L1235.5 593.1 L1236.5 593.1 L1237.5 593.1 L1238.5 593.1 L1239.5 593.1 L1240.5 593.1 L1241.5 593.1 L1242.5 593.1 L1243.5 593.1 L1244.5 593.1 L1245.5 593.1 L1246.5 593.1 L1247.5 593.1 L1248.5 593.1 L1249.5 593.1 L1250.5 593.1 L1251.5 593.1 L1252.5 593.1 L1253.5 593.1 L1254.5 593.1 L1255.5 593.1 L1256.5 593.1 L1257.5 593.1 L1258.5 593.1 L1259.5 593.1 L1260.5 593.1 L1261.5 593.1 L1262.5 593.1 L1263.5 593.1 L1264.5 593.1 L1265.5 593.1 L1266.5 593.1 L1267.5 593.1 L1268.5 593.1 L1269.5 593.1 L1270.5 593.1 L1271.5 593.1 L1272.5 593.1 L1273.5 593.1 L1274.5 593.1 L1275.5 593.1 L1276.5 593.1 L1277.5 593.1 L1278.5 593.1 L1279.5 593.1 L1280.5 593.1 L1281.5 593.1 L1282.5 593.1 L1283.5 593.1 L1284.5 593.1 L1285.5 593.1 L1286.5 593.1 L1287.5 593.1 L1288.5 593.1 L1289.5 593.1 L1290.5 593.1 L1291.5 593.1 L1292.5 593.1 L1293.5 593.1 L1294.5 593.1 L1295.5 593.1 L1296.5 593.1 L1297.5 593.1 L1298.5 593.1 L1299.5 593.1 L1300.5 593.1 L1301.5 593.1 L1302.5 593.1 L1303.5 593.1 L1304.5 593.1 L1305.5 593.1 L1306.5 593.1 L1307.5 593.1 L1308.5 593.1 L1309.5 593.1 L1310.5 593.1 L1311.5 593.1 L1312.5 593.1 L1313.5 593.1 L1314.5 593.1 L1315.5 593.1 L1316.5 593.1 L1317.5 593.1 L1318.5 593.1 L1319.5 593.1 L1320.5 593.1 L1321.5 593.1 L1322.5 593.0 L1323.5 593.0 L1324.5 593.0 L1325.5 593.0 L1326.5 593.0 L1327.5 593.0 L1328.5 593.0 L1329.5 593.0 L1330.5 593.0 L1331.5 593.0 L1332.5 593.0 L1333.5 593.0 L1334.5 593.0 L1335.5 593.0 L1336.5 593.0 L1337.5 593.0 L1338.5 593.0 L1339.5 593.0 L1340.5 593.0 L1341.5 593.0 L1342.5 593.0 L1343.5 593.0 L1344.5 593.0 L1345.5 593.0 L1346.5 593.0 L1347.5 593.0 L1348.5 593.0 L1349.5 593.0 L1350.5 593.0 L1351.5 593.0 L1352.5 593.0" stroke="#f00" stroke-width="4.9"/>
<path d="M169.5 229.7 L170.5 231.3 L171.5 233.9 L172.5 237.9 L173.5 242.8 L174.5 248.5 L175.5 254.4 L176.5 260.3 L177.5 266.1 L178.5 272.1 L179.5 279.3 L180.5 284.7 L181.5 288.0 L182.5 290.9 L183.5 294.6 L184.5 299.1 L185.5 303.8 L186.5 308.8 L187.5 313.5 L188.5 317.5 L189.5 321.5 L190.5 325.8 L191.5 330.3 L192.5 334.8 L193.5 339.4 L194.5 344.0 L195.5 348.6 L196.5 352.9 L197.5 356.5 L198.5 359.8 L199.5 362.8 L200.5 365.7 L201.5 368.4 L202.5 370.9 L203.5 373.1 L204.5 375.2 L205.5 377.3 L206.5 379.2 L207.5 380.7 L208.5 381.8 L209.5 382.4 L210.5 383.0 L211.5 383.5 L212.5 383.9 L213.5 384.3 L214.5 384.6 L215.5 384.8 L216.5 384.9 L217.5 384.9 L218.5 384.7 L219.5 384.4 L220.5 384.0 L221.5 383.5 L222.5 382.9 L223.5 382.3 L224.5 381.7 L225.5 381.1 L226.5 380.5 L227.5 380.0 L228.5 379.4 L229.5 378.8 L230.5 378.2 L231.5 377.6 L232.5 376.9 L233.5 376.3 L234.5 375.8 L235.5 375.2 L236.5 374.8 L237.5 374.3 L238.5 373.8 L239.5 373.4 L240.5 373.0 L241.5 372.6 L242.5 372.2 L243.5 371.8 L244.5 371.5 L245.5 371.2 L246.5 370.9 L247.5 370.5 L248.5 370.2 L249.5 369.9 L250.5 369.7 L251.5 369.4 L252.5 369.3 L253.5 369.1 L254.5 369.1 L255.5 369.1 L256.5 369.1 L257.5 369.2 L258.5 369.2 L259.5 369.2 L260.5 369.3 L261.5 369.4 L262.5 369.4 L263.5 369.5 L264.5 369.6 L265.5 369.8 L266.5 370.0 L267.5 370.3 L268.5 370.7 L269.5 371.1 L270.5 371.6 L271.5 372.0 L272.5 372.5 L273.5 373.0 L274.5 373.5 L275.5 374.0 L276.5 374.6 L277.5 375.2 L278.5 375.8 L279.5 376.4 L280.5 377.1 L281.5 377.8 L282.5 378.5 L283.5 379.2 L284.5 379.9 L285.5 380.6 L286.5 381.4 L287.5 382.2 L288.5 383.0 L289.5 383.7 L290.5 384.4 L291.5 385.1 L292.5 385.7 L293.5 386.3 L294.5 386.8 L295.5 387.4 L296.5 387.9 L297.5 388.4 L298.5 388.8 L299.5 389.3 L300.5 389.7 L301.5 390.2 L302.5 390.6 L303.5 391.0 L304.5 391.5 L305.5 391.9 L306.5 392.3 L307.5 392.6 L308.5 392.9 L309.5 393.2 L310.5 393.4 L311.5 393.7 L312.5 393.9 L313.5 394.1 L314.5 394.3 L315.5 394.4 L316.5 394.6 L317.5 394.7 L318.5 394.8 L319.5 394.9 L320.5 394.9 L321.5 394.9 L322.5 394.9 L323.5 394.9 L324.5 394.9 L325.5 394.9 L326.5 394.9 L327.5 394.9 L328.5 394.9 L329.5 394.9 L330.5 394.9 L331.5 394.9 L332.5 394.8 L333.5 394.7 L334.5 394.6 L335.5 394.4 L336.5 394.2 L337.5 394.0 L338.5 393.8 L339.5 393.6 L340.5 393.3 L341.5 393.1 L342.5 392.8 L343.5 392.5 L344.5 392.2 L345.5 391.9 L346.5 391.5 L347.5 391.1 L348.5 390.8 L349.5 390.4 L350.5 390.1 L351.5 389.8 L352.5 389.5 L353.5 389.2 L354.5 389.0 L355.5 388.8 L356.5 388.5 L357.5 388.3 L358.5 388.1 L359.5 387.8 L360.5 387.5 L361.5 387.2 L362.5 386.8 L363.5 386.3 L364.5 385.8 L365.5 385.2 L366.5 384.6 L367.5 384.0 L368.5 383.3 L369.5 382.7 L370.5 382.2 L371.5 381.7 L372.5 381.2 L373.5 380.8 L374.5 380.4 L375.5 379.9 L376.5 379.5 L377.5 379.1 L378.5 378.7 L379.5 378.2 L380.5 377.8 L381.5 377.3 L382.5 376.8 L383.5 376.3 L384.5 375.8 L385.5 375.3 L386.5 374.8 L387.5 374.3 L388.5 373.9 L389.5 373.5 L390.5 373.1 L391.5 372.7 L392.5 372.4 L393.5 372.1 L394.5 371.7 L395.5 371.4 L396.5 371.2 L397.5 370.9 L398.5 370.7 L399.5 370.5 L400.5 370.3 L401.5 370.1 L402.5 369.9 L403.5 369.7 L404.5 369.5 L405.5 369.4 L406.5 369.3 L407.5 369.2 L408.5 369.2 L409.5 369.2 L410.5 369.3 L411.5 369.4 L412.5 369.6 L413.5 369.8 L414.5 370.0 L415.5 370.3 L416.5 370.6 L417.5 370.8 L418.5 371.2 L419.5 371.5 L420.5 371.8 L421.5 372.3 L422.5 372.9 L423.5 373.5 L424.5 374.2 L425.5 374.9 L426.5 375.6 L427.5 376.3 L428.5 377.0 L429.5 377.8 L430.5 378.7 L431.5 379.6 L432.5 380.5 L433.5 381.4 L434.5 382.3 L435.5 383.1 L436.5 383.8 L437.5 384.5 L438.5 385.1 L439.5 385.8 L440.5 386.4 L441.5 386.9 L442.5 387.5 L443.5 388.0 L444.5 388.5 L445.5 388.9 L446.5 389.4 L447.5 389.8 L448.5 390.3 L449.5 390.7 L450.5 391.1 L451.5 391.5 L452.5 391.9 L453.5 392.2 L454.5 392.5 L455.5 392.8 L456.5 393.1 L457.5 393.5 L458.5 393.8 L459.5 394.1 L460.5 394.4 L461.5 394.7 L462.5 394.9 L463.5 395.0 L464.5 395.1 L465.5 395.1 L466.5 395.1 L467.5 395.1 L468.5 395.1 L469.5 395.1 L470.5 395.0 L471.5 395.0 L472.5 395.0 L473.5 395.0 L474.5 394.9 L475.5 394.9 L476.5 394.8 L477.5 394.8 L478.5 394.7 L479.5 394.6 L480.5 394.4 L481.5 394.3 L482.5 394.2 L483.5 394.0 L484.5 393.9 L485.5 393.7 L486.5 393.5 L487.5 393.2 L488.5 392.9 L489.5 392.5 L490.5 392.1 L491.5 391.8 L492.5 391.4 L493.5 391.1 L494.5 390.8 L495.5 390.5 L496.5 390.3 L497.5 390.0 L498.5 389.8 L499.5 389.6 L500.5 389.4 L501.5 389.2 L502.5 389.0 L503.5 388.8 L504.5 388.5 L505.5 388.3 L506.5 387.9 L507.5 387.5 L508.5 387.1 L509.5 386.6 L510.5 386.0 L511.5 385.5 L512.5 384.9 L513.5 384.4 L514.5 384.0 L515.5 383.5 L516.5 383.2 L517.5 382.8 L518.5 382.5 L519.5 382.2 L520.5 381.9 L521.5 381.6 L522.5 381.2 L523.5 380.9 L524.5 380.5 L525.5 380.0 L526.5 379.5 L527.5 378.9 L528.5 378.2 L529.5 377.5 L530.5 376.8 L531.5 376.2 L532.5 375.5 L533.5 374.9 L534.5 374.3 L535.5 373.7 L536.5 373.0 L537.5 372.3 L538.5 371.7 L539.5 371.2 L540.5 370.9 L541.5 370.8 L542.5 371.0 L543.5 371.4 L544.5 372.0 L545.5 372.8 L546.5 373.8 L547.5 374.9 L548.5 376.0 L549.5 377.0 L550.5 377.9 L551.5 378.9 L552.5 379.9 L553.5 380.8 L554.5 381.7 L555.5 382.5 L556.5 383.2 L557.5 383.7 L558.5 384.2 L559.5 384.6 L560.5 385.0 L561.5 385.4 L562.5 385.7 L563.5 386.0 L564.5 386.2 L565.5 386.4 L566.5 386.4 L567.5 386.4 L568.5 386.4 L569.5 386.4 L570.5 386.3 L571.5 386.3 L572.5 386.3 L573.5 386.2 L574.5 386.2 L575.5 386.1 L576.5 386.1 L577.5 386.0 L578.5 385.9 L579.5 385.8 L580.5 385.6 L581.5 385.4 L582.5 385.2 L583.5 385.0 L584.5 384.8 L585.5 384.6 L586.5 384.5 L587.5 384.5 L588.5 384.5 L589.5 384.5 L590.5 384.5 L591.5 384.5 L592.5 384.5 L593.5 384.5 L594.5 384.5 L595.4 384.5" stroke="#00f" stroke-width="5" stroke-dasharray="5.162 5.152"/>
<path d="M595.4 384.5 L596.4 384.5 L597.4 384.5 L598.4 384.5 L599.4 384.5 L600.4 384.4 L601.4 384.4 L602.4 384.3 L603.4 384.2 L604.4 384.2 L605.4 384.1 L606.4 384.0 L607.4 383.9 L608.4 383.8 L609.4 383.7 L610.4 383.7 L611.4 383.6 L612.4 383.5 L613.4 383.4 L614.4 383.3 L615.4 383.2 L616.4 383.1 L617.4 383.0 L618.4 382.9 L619.4 382.7 L620.4 382.5 L621.4 382.2 L622.4 381.9 L623.4 381.6 L624.4 381.2 L625.4 380.8 L626.4 380.4 L627.4 380.0 L628.4 379.7 L629.4 379.4 L630.4 379.1 L631.4 378.9 L632.4 378.6 L633.4 378.4 L634.4 378.1 L635.4 377.9 L636.4 377.6 L637.4 377.4 L638.4 377.0 L639.4 376.7 L640.4 376.3 L641.4 375.8 L642.4 375.4 L643.4 374.9 L644.4 374.4 L645.4 373.9 L646.4 373.3 L647.4 372.8 L648.4 372.3 L649.4 371.8 L650.4 371.3 L651.4 370.8 L652.4 370.3 L653.4 369.7 L654.4 369.2 L655.4 368.6 L656.4 367.9 L657.4 367.2 L658.4 366.4 L659.4 365.5 L660.4 364.6 L661.4 363.6 L662.4 362.6 L663.4 361.6 L664.4 360.6 L665.4 359.6 L666.4 358.6 L667.4 357.6 L668.4 356.6 L669.4 355.6 L670.4 354.6 L671.4 353.6 L672.4 352.6 L673.4 351.7 L674.4 350.8 L675.4 350.0 L676.4 349.1 L677.4 348.2 L678.4 347.2 L679.4 346.1 L680.4 344.9 L681.4 343.5 L682.4 341.9 L683.4 340.3 L684.4 338.6 L685.4 336.9 L686.4 335.3 L687.4 333.6 L688.4 331.8 L689.4 329.9 L690.4 328.0 L691.4 326.1 L692.4 324.2 L693.4 322.0 L694.4 319.3 L695.4 314.5 L696.4 308.9 L697.4 305.6 L698.4 302.9 L699.4 300.5 L700.4 298.1 L701.4 295.8 L702.4 293.6 L703.4 291.3 L704.4 288.5 L705.4 284.8 L706.4 280.8 L707.4 277.6 L708.4 275.1 L709.4 272.7 L710.4 269.5 L711.4 264.2 L712.4 258.9 L713.4 255.0 L714.4 251.5 L715.4 248.3 L716.4 245.3 L717.4 242.4 L718.4 239.3 L719.4 236.0 L720.4 232.5 L721.4 228.0 L722.4 222.0 L723.4 217.3 L724.4 213.5 L725.4 209.8 L726.4 205.9 L727.4 202.2 L728.4 198.9 L729.4 196.0 L730.4 193.3 L731.4 190.7 L732.4 188.5 L733.4 186.5 L734.4 184.5 L735.4 182.2 L736.4 179.3 L737.4 175.3 L738.4 171.5 L739.4 168.4 L740.4 165.4 L741.4 162.9 L742.4 160.9 L743.4 159.1 L744.4 157.6 L745.4 156.3 L746.4 155.0 L747.4 153.8 L748.4 152.5 L749.4 151.2 L750.4 149.7 L751.4 148.3 L752.4 147.0 L753.4 145.8 L754.4 145.0 L755.4 144.5 L756.4 144.3 L757.4 144.2 L758.4 144.0 L759.4 144.0 L760.4 144.1 L761.4 144.5 L762.4 145.1 L763.4 145.8 L764.4 146.5 L765.4 147.5 L766.4 148.8 L767.4 150.4 L768.4 152.1 L769.4 153.7 L770.4 155.3 L771.4 156.8 L772.4 158.3 L773.4 159.9 L774.4 161.6 L775.4 163.4 L776.4 165.4 L777.4 167.6 L778.4 170.0 L779.4 172.4 L780.4 174.8 L781.4 177.3 L782.4 179.9 L783.4 183.1 L784.4 187.8 L785.4 192.3 L786.4 194.9 L787.4 196.8 L788.4 198.5 L789.4 200.8 L790.4 204.7 L791.4 211.6 L792.4 217.8 L793.4 223.0 L794.4 226.4 L795.4 229.1 L796.4 231.9 L797.4 235.2 L798.4 239.1 L799.4 245.6 L800.4 254.3 L801.4 259.5 L802.4 263.7 L803.4 267.2 L804.4 270.3 L805.4 273.9 L806.4 278.1 L807.4 282.9 L808.4 289.3 L809.4 295.0 L810.4 299.0 L811.4 302.4 L812.4 306.3 L813.4 310.5 L814.4 314.4 L815.4 317.7 L816.4 320.9 L817.4 324.7 L818.4 329.4 L819.4 334.0 L820.4 338.3 L821.4 342.8 L822.4 349.0 L823.4 354.9 L824.4 358.6 L825.4 361.7 L826.4 365.2 L827.4 369.3 L828.4 373.1 L829.4 376.7 L830.4 380.0 L831.4 382.7 L832.4 384.5 L833.4 386.0 L834.4 387.4 L835.4 388.6 L836.4 389.6 L837.4 390.4 L838.4 391.1 L839.4 391.7 L840.4 392.3 L841.4 392.7 L842.4 393.2 L843.4 393.6 L844.4 393.9 L845.4 394.3 L846.4 394.6 L847.4 394.9 L848.4 395.3 L849.4 395.7 L850.4 396.1 L851.4 396.4 L852.4 396.7 L853.4 397.0 L854.4 397.2 L855.4 397.4 L856.4 397.5 L857.4 397.5 L858.4 397.4 L859.4 397.2 L860.4 396.9 L861.4 396.5 L862.4 396.2 L863.4 395.8 L864.4 395.4 L865.4 395.0 L866.4 394.7 L867.4 394.5 L868.4 394.3 L869.4 394.1 L870.4 394.0 L871.4 393.8 L872.4 393.6 L873.4 393.5 L874.4 393.3 L875.4 393.2 L876.4 393.1 L877.4 393.0 L878.4 392.9 L879.4 392.8 L880.4 392.7 L881.4 392.6 L882.4 392.5 L883.4 392.4 L884.4 392.3 L885.4 392.2 L886.4 392.1 L887.4 392.0 L888.4 391.8 L889.4 391.7 L890.4 391.5 L891.4 391.2 L892.4 391.0 L893.4 390.8 L894.4 390.5 L895.4 390.3 L896.4 390.2 L897.4 390.0 L898.4 389.9 L899.4 389.8 L900.4 389.8 L901.4 389.7 L902.4 389.6 L903.4 389.6 L904.4 389.5 L905.4 389.5 L906.4 389.4 L907.4 389.3 L908.4 389.2 L909.4 389.2 L910.4 389.1 L911.4 388.9 L912.4 388.8 L913.4 388.7 L914.4 388.6 L915.4 388.5 L916.4 388.3 L917.4 388.2 L918.4 388.1 L919.4 388.0 L920.4 387.8 L921.4 387.7 L922.4 387.5 L923.4 387.3 L924.4 387.2 L925.4 387.0 L926.4 386.8 L927.4 386.7 L928.4 386.6 L929.4 386.5 L930.4 386.4 L931.4 386.4 L932.4 386.4 L933.4 386.4 L934.4 386.4 L935.4 386.4 L936.4 386.4 L937.4 386.4 L938.4 386.4 L939.4 386.4 L940.4 386.4 L941.4 386.4 L942.4 386.4 L943.4 386.4 L944.4 386.4 L945.4 386.4 L946.4 386.4 L947.4 386.4 L948.4 386.4 L949.4 386.4 L950.4 386.4 L951.4 386.4 L952.4 386.4 L953.4 386.4 L954.4 386.4 L955.4 386.4 L956.4 386.4 L957.4 386.4 L958.4 386.4 L959.4 386.4 L960.4 386.4 L961.4 386.4 L962.4 386.4 L963.4 386.4 L964.4 386.4 L965.4 386.4 L966.4 386.4 L967.4 386.4 L968.4 386.4 L969.4 386.4 L970.4 386.4 L971.4 386.4 L972.4 386.4 L973.4 386.4 L974.4 386.4 L975.4 386.4 L976.4 386.4 L977.4 386.4 L978.4 386.4 L979.4 386.4 L980.4 386.4 L981.4 386.4 L982.4 386.4 L983.4 386.4 L984.4 386.4 L985.4 386.4 L986.4 386.4 L987.4 386.4 L988.4 386.4 L989.4 386.4 L990.4 386.4 L991.4 386.4 L992.4 386.4 L993.4 386.4 L994.4 386.4 L995.4 386.4 L996.4 386.4 L997.4 386.4 L998.4 386.4 L999.4 386.4 L1000.4 386.4 L1001.4 386.4 L1002.4 386.4 L1003.4 386.4 L1004.4 386.4 L1005.4 386.4 L1006.4 386.4 L1007.4 386.4 L1008.4 386.4 L1009.4 386.4 L1010.4 386.4 L1011.4 386.4 L1012.4 386.4 L1013.4 386.4 L1014.4 386.4 L1015.4 386.4 L1016.4 386.4 L1017.4 386.4 L1018.4 386.4 L1019.4 386.4 L1020.4 386.4 L1021.4 386.4 L1022.4 386.4 L1023.4 386.4 L1024.4 386.4 L1025.4 386.4 L1026.4 386.4 L1027.4 386.4 L1028.4 386.4 L1029.4 386.4 L1030.4 386.4 L1031.4 386.4 L1032.4 386.4 L1033.4 386.4 L1034.4 386.4 L1035.4 386.4 L1036.4 386.4 L1037.4 386.4 L1038.4 386.4 L1039.4 386.4 L1040.4 386.4 L1041.4 386.4 L1042.4 386.4 L1043.4 386.4 L1044.4 386.4 L1045.4 386.4 L1046.4 386.4 L1047.4 386.4 L1048.4 386.4 L1049.4 386.4 L1050.4 386.4 L1051.4 386.4 L1052.4 386.4 L1053.4 386.4 L1054.4 386.4 L1055.4 386.4 L1056.4 386.4 L1057.4 386.4 L1058.4 386.4 L1059.4 386.4 L1060.4 386.4 L1061.4 386.4 L1062.4 386.4 L1063.4 386.4 L1064.4 386.4 L1065.4 386.4 L1066.4 386.4 L1067.4 386.4 L1068.4 386.4 L1069.4 386.4 L1070.4 386.4 L1071.4 386.4 L1072.4 386.4 L1073.4 386.4 L1074.4 386.4 L1075.4 386.4 L1076.4 386.4 L1077.4 386.4 L1078.4 386.4 L1079.4 386.4 L1080.4 386.4 L1081.4 386.4 L1082.4 386.4 L1083.4 386.4 L1084.4 386.4 L1085.4 386.4 L1086.4 386.4 L1087.4 386.4 L1088.4 386.4 L1089.4 386.4 L1090.4 386.4 L1091.4 386.4 L1092.4 386.4 L1093.4 386.4 L1094.4 386.4 L1095.4 386.4 L1096.4 386.4 L1097.4 386.4 L1098.4 386.4 L1099.4 386.4 L1100.4 386.4 L1101.4 386.4 L1102.4 386.4 L1103.4 386.4 L1104.4 386.4 L1105.4 386.4 L1106.4 386.4 L1106.4 386.4" stroke="#00f" stroke-width="5" stroke-dasharray="5.201 5.191"/>
<path d="M1106.4 386.4 L1107.4 386.4 L1108.4 386.4 L1109.4 386.4 L1110.4 386.4 L1111.4 386.4 L1112.4 386.4 L1113.4 386.4 L1114.4 386.4 L1115.4 386.4 L1116.4 386.4 L1117.4 386.4 L1118.4 386.4 L1119.4 386.4 L1120.4 386.4 L1121.4 386.4 L1122.4 386.4 L1123.4 386.4 L1124.4 386.4 L1125.4 386.4 L1126.4 386.4 L1127.4 386.4 L1128.4 386.4 L1129.4 386.4 L1130.4 386.4 L1131.4 386.4 L1132.4 386.4 L1133.4 386.4 L1134.4 386.4 L1135.4 386.4 L1136.4 386.4 L1137.4 386.4 L1138.4 386.4 L1139.4 386.4 L1140.4 386.4 L1141.4 386.4 L1142.4 386.4 L1143.4 386.4 L1144.4 386.4 L1145.4 386.4 L1146.4 386.4 L1147.4 386.4 L1148.4 386.4 L1149.4 386.4 L1150.4 386.4 L1151.4 386.4 L1152.4 386.4 L1153.4 386.4 L1154.4 386.4 L1155.4 386.4 L1156.4 386.4 L1157.4 386.4 L1158.4 386.4 L1159.4 386.4 L1160.4 386.4 L1161.4 386.4 L1162.4 386.4 L1163.4 386.4 L1164.4 386.4 L1165.4 386.4 L1166.4 386.4 L1167.4 386.4 L1168.4 386.4 L1169.4 386.4 L1170.4 386.4 L1171.4 386.4 L1172.4 386.4 L1173.4 386.4 L1174.4 386.4 L1175.4 386.4 L1176.4 386.4 L1177.4 386.4 L1178.4 386.4 L1179.4 386.4 L1180.4 386.4 L1181.4 386.4 L1182.4 386.4 L1183.4 386.4 L1184.4 386.4 L1185.4 386.4 L1186.4 386.4 L1187.4 386.4 L1188.4 386.4 L1189.4 386.4 L1190.4 386.4 L1191.4 386.4 L1192.4 386.4 L1193.4 386.4 L1194.4 386.4 L1195.4 386.4 L1196.4 386.4 L1197.4 386.4 L1198.4 386.4 L1199.4 386.4 L1200.4 386.4 L1201.4 386.4 L1202.4 386.4 L1203.4 386.4 L1204.4 386.4 L1205.4 386.4 L1206.4 386.4 L1207.4 386.4 L1208.4 386.4 L1209.4 386.4 L1210.4 386.4 L1211.4 386.4 L1212.4 386.4 L1213.4 386.4 L1214.4 386.4 L1215.4 386.4 L1216.4 386.4 L1217.4 386.4 L1218.4 386.4 L1219.4 386.4 L1220.4 386.4 L1221.4 386.4 L1222.4 386.4 L1223.4 386.4 L1224.4 386.4 L1225.4 386.4 L1226.4 386.4 L1227.4 386.4 L1228.4 386.4 L1229.4 386.4 L1230.4 386.4 L1231.4 386.4 L1232.4 386.4 L1233.4 386.4 L1234.4 386.4 L1235.4 386.4 L1236.4 386.4 L1237.4 386.4 L1238.4 386.4 L1239.4 386.4 L1240.4 386.4 L1241.4 386.4 L1242.4 386.4 L1243.4 386.4 L1244.4 386.4 L1245.4 386.4 L1246.4 386.4 L1247.4 386.4 L1248.4 386.4 L1249.4 386.4 L1250.4 386.4 L1251.4 386.4 L1252.4 386.4 L1253.4 386.4 L1254.4 386.4 L1255.4 386.4 L1256.4 386.4 L1257.4 386.4 L1258.4 386.4 L1259.4 386.4 L1260.4 386.4 L1261.4 386.4 L1262.4 386.4 L1263.4 386.4 L1264.4 386.4 L1265.4 386.4 L1266.4 386.4 L1267.4 386.4 L1268.4 386.4 L1269.4 386.4 L1270.4 386.4 L1271.4 386.4 L1272.4 386.4 L1273.4 386.4 L1274.4 386.4 L1275.4 386.4 L1276.4 386.4 L1277.4 386.4 L1278.4 386.4 L1279.4 386.4 L1280.4 386.4 L1281.4 386.4 L1282.4 386.4 L1283.4 386.4 L1284.4 386.4 L1285.4 386.4 L1286.4 386.4 L1287.4 386.4 L1288.4 386.4 L1289.4 386.4 L1290.4 386.4 L1291.4 386.4 L1292.4 386.4 L1293.4 386.4 L1294.4 386.4 L1295.4 386.4 L1296.4 386.4 L1297.4 386.4 L1298.4 386.4 L1299.4 386.4 L1300.4 386.4 L1301.4 386.4 L1302.4 386.4 L1303.4 386.4 L1304.4 386.4 L1305.4 386.4 L1306.4 386.4 L1307.4 386.4 L1308.4 386.4 L1309.4 386.4 L1310.4 386.4 L1311.4 386.4 L1312.4 386.4 L1313.4 386.4 L1314.4 386.4 L1315.4 386.4 L1316.4 386.4 L1317.4 386.4 L1318.4 386.4 L1319.4 386.4 L1320.4 386.4 L1321.4 386.4 L1322.4 386.4 L1323.4 386.4 L1324.4 386.4 L1325.4 386.4 L1326.4 386.4 L1327.4 386.4 L1328.4 386.4 L1329.4 386.4 L1330.4 386.4 L1331.4 386.4 L1332.4 386.4 L1333.4 386.4 L1334.4 386.4 L1335.4 386.4 L1336.4 386.4 L1337.4 386.4 L1338.4 386.4 L1339.4 386.4 L1340.4 386.4 L1341.4 386.4 L1342.4 386.4 L1343.4 386.4 L1344.4 386.4 L1345.4 386.4 L1346.4 386.4 L1347.4 386.4 L1348.4 386.4 L1349.4 386.4 L1350.4 386.4 L1351.4 386.4 L1352.4 386.4 L1353.0 386.4" stroke="#00f" stroke-width="5" stroke-dasharray="5.200 5.190"/>
</g>
<g font-size="58" stroke="#000" stroke-width="0.7">
<text x="163" y="40.7" text-anchor="end">10</text>
<text x="160.1" y="246.8" text-anchor="end" textLength="27.75" lengthAdjust="spacingAndGlyphs">5</text>
<text x="163" y="453.5" text-anchor="end">0</text>
<text x="160.1" y="661.8" text-anchor="end" textLength="45.6" lengthAdjust="spacingAndGlyphs">-5</text>
<text x="163" y="868.4" text-anchor="end">-10</text>
<text x="160.6" y="1076.8" text-anchor="end" textLength="74" lengthAdjust="spacingAndGlyphs">-15</text>
</g>
<g font-size="58" text-anchor="middle" stroke="#000" stroke-width="0.7">
<text x="170" y="1112.7">0</text>
<text x="405.6" y="1112.7">20</text>
<text x="641.3" y="1112.7">40</text>
<text x="877.8" y="1112.7">60</text>
<text x="1114.1" y="1112.7">80</text>
<text x="1353" y="1112.7">100</text>
</g>
<g stroke="#000" stroke-width="0.7">
<text x="656.26" y="1177.2" font-size="72">X</text>
<text x="724.4" y="1177.2" font-size="66" textLength="25.06" lengthAdjust="spacingAndGlyphs">(</text>
<text x="747.6" y="1177.2" font-size="69.5">m</text>
<text x="800.1" y="1177.2" font-size="66" textLength="25.06" lengthAdjust="spacingAndGlyphs">)</text>
<g transform="translate(58 628.6) rotate(-90)">
<text x="-3.88" y="0" font-size="72" textLength="47.37" lengthAdjust="spacingAndGlyphs">Z</text>
<text x="56.8" y="0" font-size="66" textLength="25.06" lengthAdjust="spacingAndGlyphs">(</text>
<text x="79.2" y="0" font-size="69.5">m</text>
<text x="132.4" y="0" font-size="66" textLength="25.06" lengthAdjust="spacingAndGlyphs">)</text>
</g>
</g>
<rect x="951.3" y="35.7" width="390" height="211.1" fill="#fff" stroke="#000" stroke-width="1.8"/>
<path d="M964.2 73.3H1033.6" stroke="#00f" stroke-width="5.2" stroke-dasharray="5.4 5"/>
<path d="M964.2 140.2H1033.6" stroke="#f00" stroke-width="5"/>
<path d="M964.2 207.6H1033.6" stroke="#000" stroke-width="5" stroke-dasharray="15.4 5.4 5 5.3"/>
<g font-size="58" stroke="#000" stroke-width="0.7">
<text x="1040.5" y="91.4" textLength="183.6" lengthAdjust="spacingAndGlyphs">Altitude</text>
<text x="1040.5" y="160.5" textLength="270.3" lengthAdjust="spacingAndGlyphs">AUV Depth</text>
<text x="1042.2" y="228.7" textLength="288.4" lengthAdjust="spacingAndGlyphs">Water Depth</text>
</g>
</svg>
</body></html>
